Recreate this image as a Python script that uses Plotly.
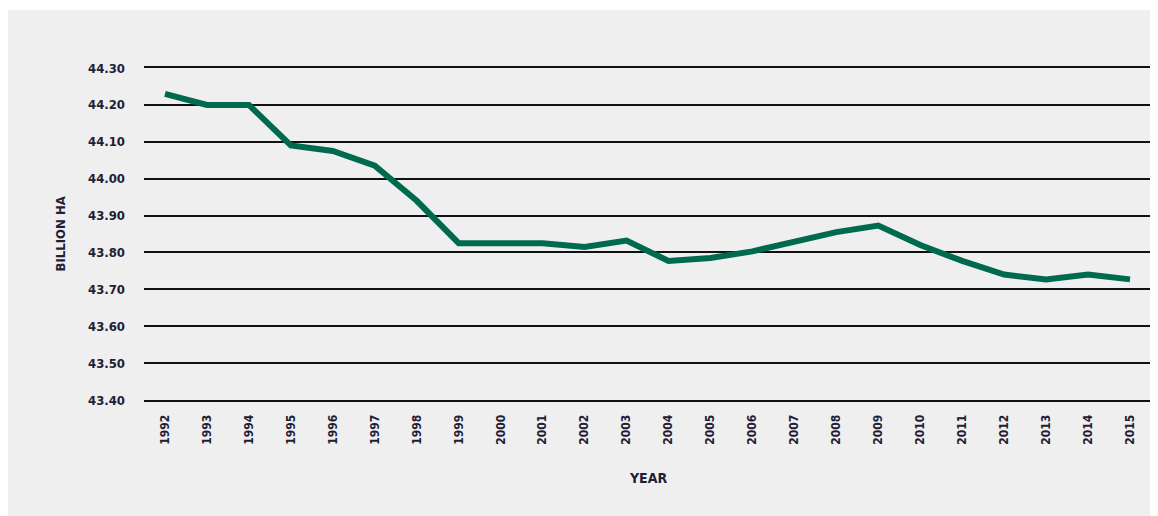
import plotly.graph_objects as go

years = [str(y) for y in range(1992, 2016)]
billion_ha = [
    44.23, 44.20, 44.20, 44.09, 44.075, 44.035, 43.94, 43.825,
    43.825, 43.825, 43.815, 43.832, 43.777, 43.785, 43.803, 43.83,
    43.855, 43.873, 43.82, 43.777, 43.74, 43.727, 43.74, 43.727,
]
y_ticks = [43.40, 43.50, 43.60, 43.70, 43.80, 43.90, 44.00, 44.10, 44.20, 44.30]

font_family = "Liberation Sans Narrow, DejaVu Sans Condensed, Arial Narrow, sans-serif"
text_color = "#1f2035"
rule_color = "#111111"

fig = go.Figure(
    go.Scatter(
        x=years,
        y=billion_ha,
        mode="lines",
        line=dict(color="#006a4e", width=6),
        hoverinfo="x+y",
    )
)

# the page body has an 8px margin, so the figure is 8px smaller than the window
fig.update_layout(
    width=1150,
    height=508,
    margin=dict(l=136, r=7, t=60, b=116),
    paper_bgcolor="white",
    plot_bgcolor="rgba(0,0,0,0)",
    showlegend=False,
    font=dict(family=font_family, color=text_color, size=13, weight="bold"),
    shapes=[
        dict(
            type="rect",
            xref="paper",
            yref="paper",
            x0=-0.136,
            x1=1.01,
            y0=-0.36,
            y1=1.1747,
            fillcolor="#efefef",
            line=dict(width=0),
            layer="below",
        )
    ],
    annotations=[
        dict(
            text="YEAR",
            xref="paper",
            yref="paper",
            x=0.5,
            y=-0.235,
            showarrow=False,
            font=dict(size=14, weight="bold"),
            xanchor="center",
            yanchor="middle",
        ),
        dict(
            text="BILLION HA",
            xref="paper",
            yref="paper",
            x=-0.083,
            y=0.5,
            textangle=-90,
            showarrow=False,
            font=dict(size=13, weight="bold"),
            xanchor="center",
            yanchor="middle",
        ),
    ],
)

# axis line + mirror give the 43.40 and 44.30 rules at the plot edges
fig.update_xaxes(
    type="category",
    range=[-0.5, 23.5],
    tickangle=-90,
    showgrid=False,
    showline=True,
    mirror=True,
    linecolor=rule_color,
    linewidth=2,
    zeroline=False,
    ticks="",
    tickfont=dict(size=12),
    ticklabelstandoff=8,
)

fig.update_yaxes(
    range=[43.40, 44.30],
    tickvals=y_ticks,
    ticktext=[f"{v:.2f}" for v in y_ticks],
    showgrid=True,
    gridcolor=rule_color,
    gridwidth=2,
    showline=False,
    zeroline=False,
    ticks="",
    tickfont=dict(size=13),
    ticklabelstandoff=18,
)

fig.write_html("out.html")
